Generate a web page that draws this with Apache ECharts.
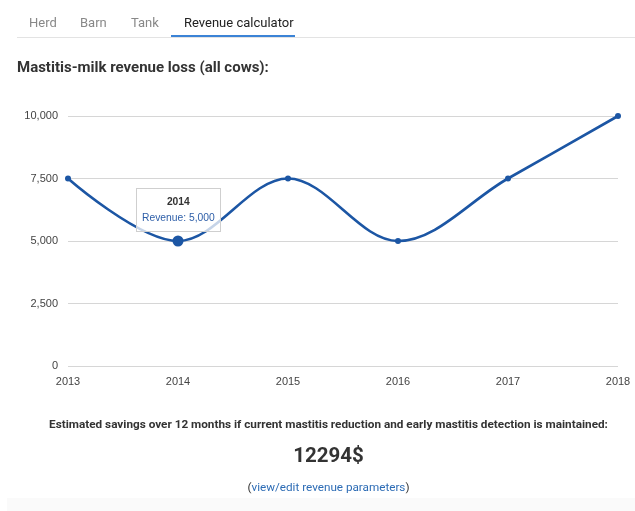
<!DOCTYPE html>
<html>
<head>
<meta charset="utf-8">
<script src="https://cdn.jsdelivr.net/npm/echarts@6/dist/echarts.min.js"></script>
<style>
  html, body { margin: 0; padding: 0; background: #fff; }
  body { width: 635px; height: 511px; position: relative; overflow: hidden; font-family: Roboto, "Noto Sans", Arial, sans-serif; }
  #chart { position: absolute; left: 0; top: 0; width: 635px; height: 511px; }
  .tabs { position: absolute; left: 17px; top: 0; right: 0; height: 37px; border-bottom: 1px solid #e3e3e3; }
  .tab { position: absolute; top: 15px; font-size: 13px; color: #888; }
  .tab.active { color: #222; }
  .tabline { position: absolute; width: 124px; top: 35px; height: 2px; background: #3b83d6; }
  .title { position: absolute; left: 17px; top: 58px; font-size: 15px; font-weight: bold; color: #333; }
  .note { position: absolute; left: 0; width: 657px; text-align: center; top: 417px; font-size: 11.75px; font-weight: bold; color: #333; }
  .big { position: absolute; left: 0; width: 657px; text-align: center; top: 443px; font-size: 20.5px; font-weight: bold; color: #333; }
  .link { position: absolute; left: 0; width: 657px; text-align: center; top: 480px; font-size: 11.7px; color: #333; }
  .link span { color: #2d6cb5; }
  .band { position: absolute; left: 7px; right: 0; top: 498px; bottom: 0; background: #fafafa; }
</style>
</head>
<body>
<div class="band"></div>
<div id="chart"></div>
<div class="tabs">
  <div class="tab" style="left:12px">Herd</div>
  <div class="tab" style="left:63px">Barn</div>
  <div class="tab" style="left:114px">Tank</div>
  <div class="tab active" style="left:167px">Revenue calculator</div>
  <div class="tabline" style="left:154px"></div>
</div>
<div class="title">Mastitis-milk revenue loss (all cows):</div>
<div class="note">Estimated savings over 12 months if current mastitis reduction and early mastitis detection is maintained:</div>
<div class="big">12294$</div>
<div class="link">(<span>view/edit revenue parameters</span>)</div>
<script>
const years = ['2013', '2014', '2015', '2016', '2017', '2018'];
const revenue = [7500, 5000, 7500, 5000, 7500, 10000];
const yTicks = [0, 2500, 5000, 7500, 10000];
const highlightIndex = 1;

const chart = echarts.init(document.getElementById('chart'), null, { renderer: 'canvas' });
const fmt = v => Number(v).toLocaleString('en-US');
chart.setOption({
  animation: false,
  grid: { left: 68, right: 17, top: 116, bottom: 145 },
  xAxis: {
    type: 'category', data: years, boundaryGap: false,
    axisLine: { show: false }, axisTick: { show: false },
    axisLabel: { color: '#444', fontSize: 11, fontFamily: 'Liberation Sans, Arial, sans-serif', margin: 10 }
  },
  yAxis: {
    type: 'value', min: yTicks[0], max: yTicks[yTicks.length - 1], interval: yTicks[1] - yTicks[0],
    axisLine: { show: false }, axisTick: { show: false },
    splitLine: { lineStyle: { color: '#d6d6d6', width: 1 } },
    axisLabel: { color: '#444', fontSize: 11, fontFamily: 'Liberation Sans, Arial, sans-serif', margin: 10, formatter: fmt }
  },
  tooltip: {
    trigger: 'item', triggerOn: 'none', alwaysShowContent: true,
    backgroundColor: 'rgba(255,255,255,0.75)', borderColor: '#cfcfcf', borderWidth: 1, borderRadius: 0,
    padding: [5, 5], extraCssText: 'box-shadow:none;border-radius:0;text-align:center;',
    transitionDuration: 0,
    position: function (point, params, dom, rect, size) {
      return [point[0] - size.contentSize[0] / 2, 188];
    },
    formatter: function (p) {
      return '<div style="font-family:Liberation Sans,Arial,sans-serif;font-size:10.3px;line-height:16px">' +
        '<div style="font-weight:bold;color:#333">' + p.name + '</div>' +
        '<div style="color:#2d5ea8">Revenue: ' + fmt(p.value) + '</div></div>';
    }
  },
  series: [{
    type: 'line', data: revenue.map((v, i) => ({ value: v, symbolSize: i === highlightIndex ? 11 : 6 })),
    smooth: 0.35, symbol: 'circle',
    lineStyle: { color: '#1c56a4', width: 2.6 },
    itemStyle: { color: '#1c56a4' },
    emphasis: { disabled: true }
  }]
});
chart.dispatchAction({ type: 'showTip', seriesIndex: 0, dataIndex: highlightIndex });
</script>
</body>
</html>
